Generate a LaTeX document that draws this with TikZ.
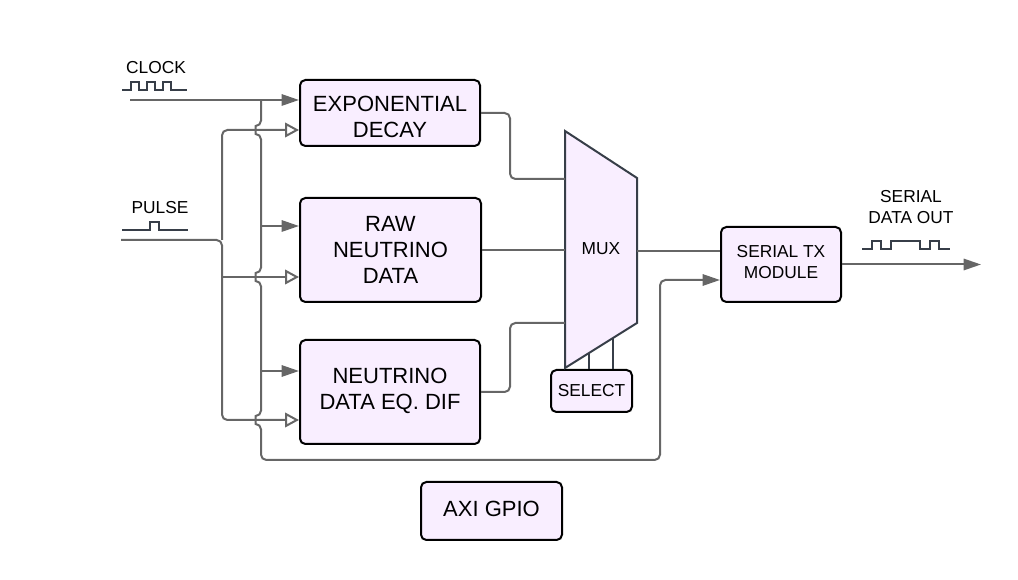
\documentclass[tikz,border=0pt]{standalone}
\usepackage{fontspec}
\setmainfont{Liberation Sans}
\usetikzlibrary{arrows.meta}
\definecolor{lav}{RGB}{249,238,255}
\definecolor{conncol}{RGB}{102,102,102}
\definecolor{slate}{RGB}{55,62,72}
\newcommand\bigf{\fontsize{16.5}{19.5}\selectfont}
\newcommand\smallf{\fontsize{13}{15.75}\selectfont}
\tikzset{
  blk/.style={draw=black, line width=1.5pt, fill=lav, rounded corners=4pt, inner sep=0pt, align=center},
  conn/.style={draw=conncol, line width=1.5pt},
  farrow/.style={-{Triangle[length=13pt,width=8.5pt]}},
  oarrow/.style={-{Triangle[open,fill=white,length=10.5pt,width=11pt]}},
  wave/.style={draw=slate, line width=1pt},
  lbl/.style={inner sep=0pt, align=center, font=\smallf},
}
\begin{document}
\begin{tikzpicture}[x=0.75pt,y=-0.75pt]
\useasboundingbox (0,0) rectangle (1018,580);
% blocks
\node[blk, minimum width=135pt, minimum height=49.5pt, font=\bigf] (EXP) at (390,113) {\rule{0pt}{17.6pt}EXPONENTIAL\\DECAY};
\node[blk, minimum width=135.75pt, minimum height=78pt, font=\bigf] (RAW) at (390.5,250) {RAW\\NEUTRINO\\DATA};
\node[blk, minimum width=135pt, minimum height=78pt, font=\bigf] (NEQ) at (390,392) {NEUTRINO\\DATA EQ. DIF\rule[-5pt]{0pt}{0pt}};
\node[blk, minimum width=90pt, minimum height=56.25pt, font=\smallf] (TX) at (781,264.5) {SERIAL TX\\MODULE\rule[-4.2pt]{0pt}{0pt}};
\node[blk, minimum width=60.75pt, minimum height=31.5pt, font=\smallf] (SEL) at (591.5,391) {SELECT};
\node[blk, minimum width=105.75pt, minimum height=43.5pt, font=\bigf] (AXI) at (491.5,511) {AXI GPIO\rule[-3.2pt]{0pt}{0pt}};
% mux
\draw[draw=slate, line width=1.5pt, fill=lav] (565,131) -- (637,178) -- (637,323) -- (565,368) -- cycle;
\node[lbl] (MUX) at (601,248.5) {MUX};
\coordinate (muxA) at (565,179);
\coordinate (muxB) at (565,250);
\coordinate (muxC) at (565,323);
\coordinate (muxO) at (637,251);
\coordinate (s1) at (589,353);
\coordinate (s2) at (613,338);
\draw[draw=slate, line width=1.2pt] (s1) -- (s1 |- SEL.north);
\draw[draw=slate, line width=1.2pt] (s2) -- (s2 |- SEL.north);
% labels
\node[lbl] (clkl) at (156,68) {CLOCK};
\node[lbl] (pull) at (160,208) {PULSE};
\node[lbl] (sdo) at (911,207.5) {SERIAL\\DATA OUT};
% waveforms
\draw[wave] (122,90) -- (131,90) -- (131,82) -- (139,82) -- (139,90) -- (147,90) -- (147,82) -- (155,82) -- (155,90) -- (163,90) -- (163,82) -- (171,82) -- (171,90) -- (187,90);
\draw[wave] (122,230) -- (150,230) -- (150,222) -- (159,222) -- (159,230) -- (188,230);
\draw[wave] (862,249) -- (872,249) -- (872,241) -- (881,241) -- (881,249) -- (891,249) -- (891,241) -- (920,241) -- (920,249) -- (930,249) -- (930,241) -- (939,241) -- (939,249) -- (950,249);
% clock and bus
\coordinate (clkin) at (130,100);
\coordinate (busTop) at (261,100);
\coordinate (br2) at (261,226);
\coordinate (br3) at (261,371);
\coordinate (txin) at (660,280);
\draw[conn, farrow] (clkin) -- (clkin -| EXP.west);
\draw[conn, rounded corners=4pt, farrow] (busTop) -- (261,126) .. controls (255.5,126) and (255.5,134) .. (261,134)
  -- (261,273) .. controls (255.5,273) and (255.5,281) .. (261,281)
  -- (261,416) .. controls (255.5,416) and (255.5,424) .. (261,424)
  -- (261,460) -- (660,460) -- (txin) -- (txin -| TX.west);
\draw[conn, farrow] (br2) -- (br2 -| RAW.west);
\draw[conn, farrow] (br3) -- (br3 -| NEQ.west);
% pulse
\coordinate (pin) at (121,240);
\coordinate (pj) at (222,240);
\coordinate (p1) at (222,130);
\coordinate (p2) at (222,277);
\coordinate (p3) at (222,420);
\draw[conn, rounded corners=4pt, oarrow] (pin) -- (pj) -- (p3) -- (p3 -| NEQ.west);
\draw[conn, rounded corners=4pt, oarrow] (pj) -- (p1) -- (p1 -| EXP.west);
\draw[conn, oarrow] (p2) -- (p2 -| RAW.west);
% mux inputs
\draw[conn, rounded corners=4pt] (EXP.east) -- (510,113) -- (510,179) -- (muxA);
\draw[conn] (RAW.east) -- (muxB);
\draw[conn, rounded corners=4pt] (NEQ.east) -- (510,392) -- (510,323) -- (muxC);
\draw[conn] (muxO) -- (muxO -| TX.west);
% output
\coordinate (outEnd) at (981,264.5);
\draw[conn, farrow] (TX.east) -- (outEnd);
\end{tikzpicture}
\end{document}
